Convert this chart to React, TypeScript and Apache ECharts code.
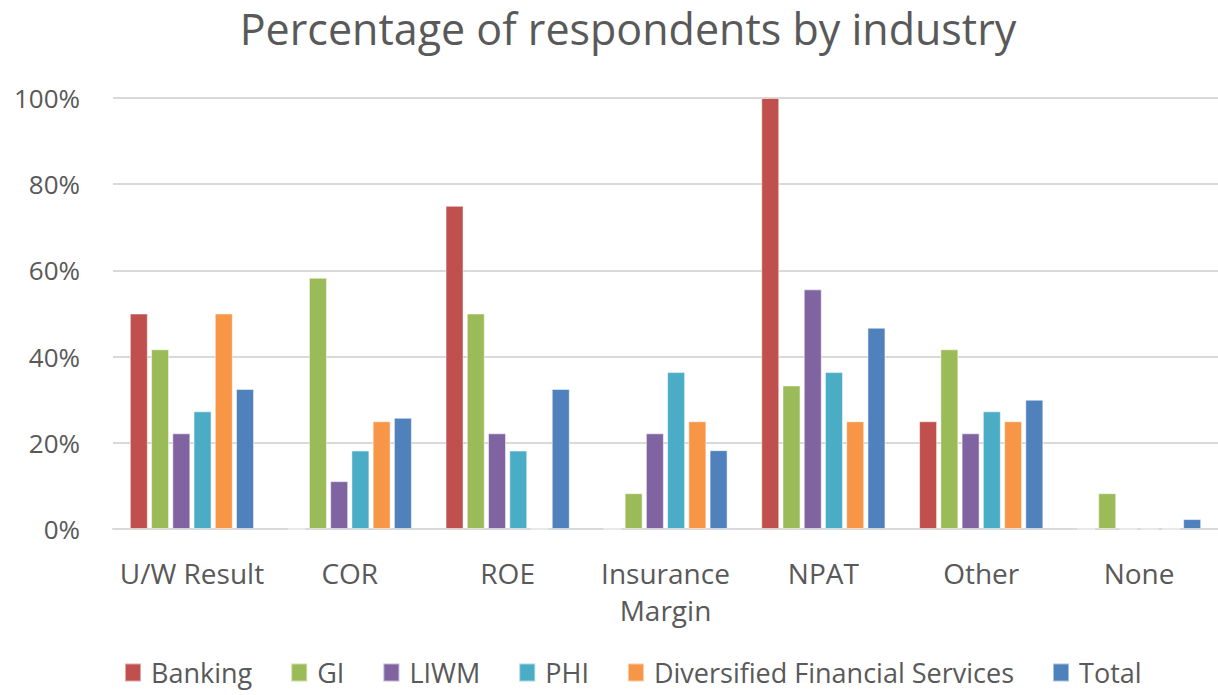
import React, { useEffect, useRef } from "react";
import * as echarts from "echarts";

const categories = ["U/W Result", "COR", "ROE", "Insurance\nMargin", "NPAT", "Other", "None"];
const seriesNames = ["Banking", "GI", "LIWM", "PHI", "Diversified Financial Services", "Total"];
const banking = [50, 0, 75, 0, 100, 25, 0];
const gi = [41.7, 58.3, 50, 8.3, 33.3, 41.7, 8.3];
const liwm = [22.2, 11.1, 22.2, 22.2, 55.6, 22.2, 0];
const phi = [27.3, 18.2, 18.2, 36.4, 36.4, 27.3, 0];
const dfs = [50, 25, 0, 25, 25, 25, 0];
const total = [32.5, 25.8, 32.5, 18.3, 46.7, 30, 2.3];
const colors = ["#C0504D", "#9BBB59", "#8064A2", "#4BACC6", "#F79646", "#4F81BD"];
const yTicks = [0, 20, 40, 60, 80, 100];

const FONT = "'Open Sans', sans-serif";

export default function App() {
  const ref = useRef<HTMLDivElement>(null);
  useEffect(() => {
    document.body.style.margin = "0";
    const chart = echarts.init(ref.current!, undefined, { renderer: "svg" });
    const values = [banking, gi, liwm, phi, dfs, total];
    chart.setOption({
      animation: false,
      backgroundColor: "#ffffff",
      textStyle: { fontFamily: FONT },
      title: {
        text: "Percentage of respondents by industry",
        left: 628,
        textAlign: "center",
        top: 3,
        padding: 0,
        textStyle: { fontFamily: FONT, fontSize: 43, lineHeight: 50, fontWeight: "normal", color: "#595959" },
      },
      legend: {
        top: 659,
        left: 124,
        padding: 0,
        itemWidth: 16,
        itemHeight: 18,
        itemGap: 38,
        icon: "rect",
        textStyle: { fontFamily: FONT, fontSize: 27, lineHeight: 27, color: "#595959", padding: [0, 0, 0, 5] },
        data: seriesNames,
      },
      grid: { left: 113, right: -7, top: 98, bottom: 166, containLabel: false },
      xAxis: {
        type: "category",
        data: categories,
        axisLine: { lineStyle: { color: "#D9D9D9", width: 2 } },
        axisTick: { show: false },
        axisLabel: { fontFamily: FONT, fontSize: 28, color: "#595959", margin: 25, lineHeight: 37, interval: 0 },
      },
      yAxis: {
        type: "value",
        min: 0,
        max: 100,
        interval: 20,
        axisLine: { show: false },
        axisTick: { show: false },
        splitLine: { lineStyle: { color: "#D9D9D9", width: 2 } },
        axisLabel: {
          fontFamily: FONT,
          fontSize: 26,
          color: "#595959",
          margin: 33,
          formatter: (v: number) => (yTicks.includes(v) ? v + "%" : ""),
        },
      },
      series: seriesNames.map((name, i) => ({
        name,
        type: "bar",
        data: values[i],
        barWidth: 18,
        barGap: "18%",
        itemStyle: { color: colors[i], borderColor: "rgba(255,255,255,0.5)", borderWidth: 1 },
      })),
    });
    return () => chart.dispose();
  }, []);
  return <div ref={ref} style={{ width: 1218, height: 695 }} />;
}
